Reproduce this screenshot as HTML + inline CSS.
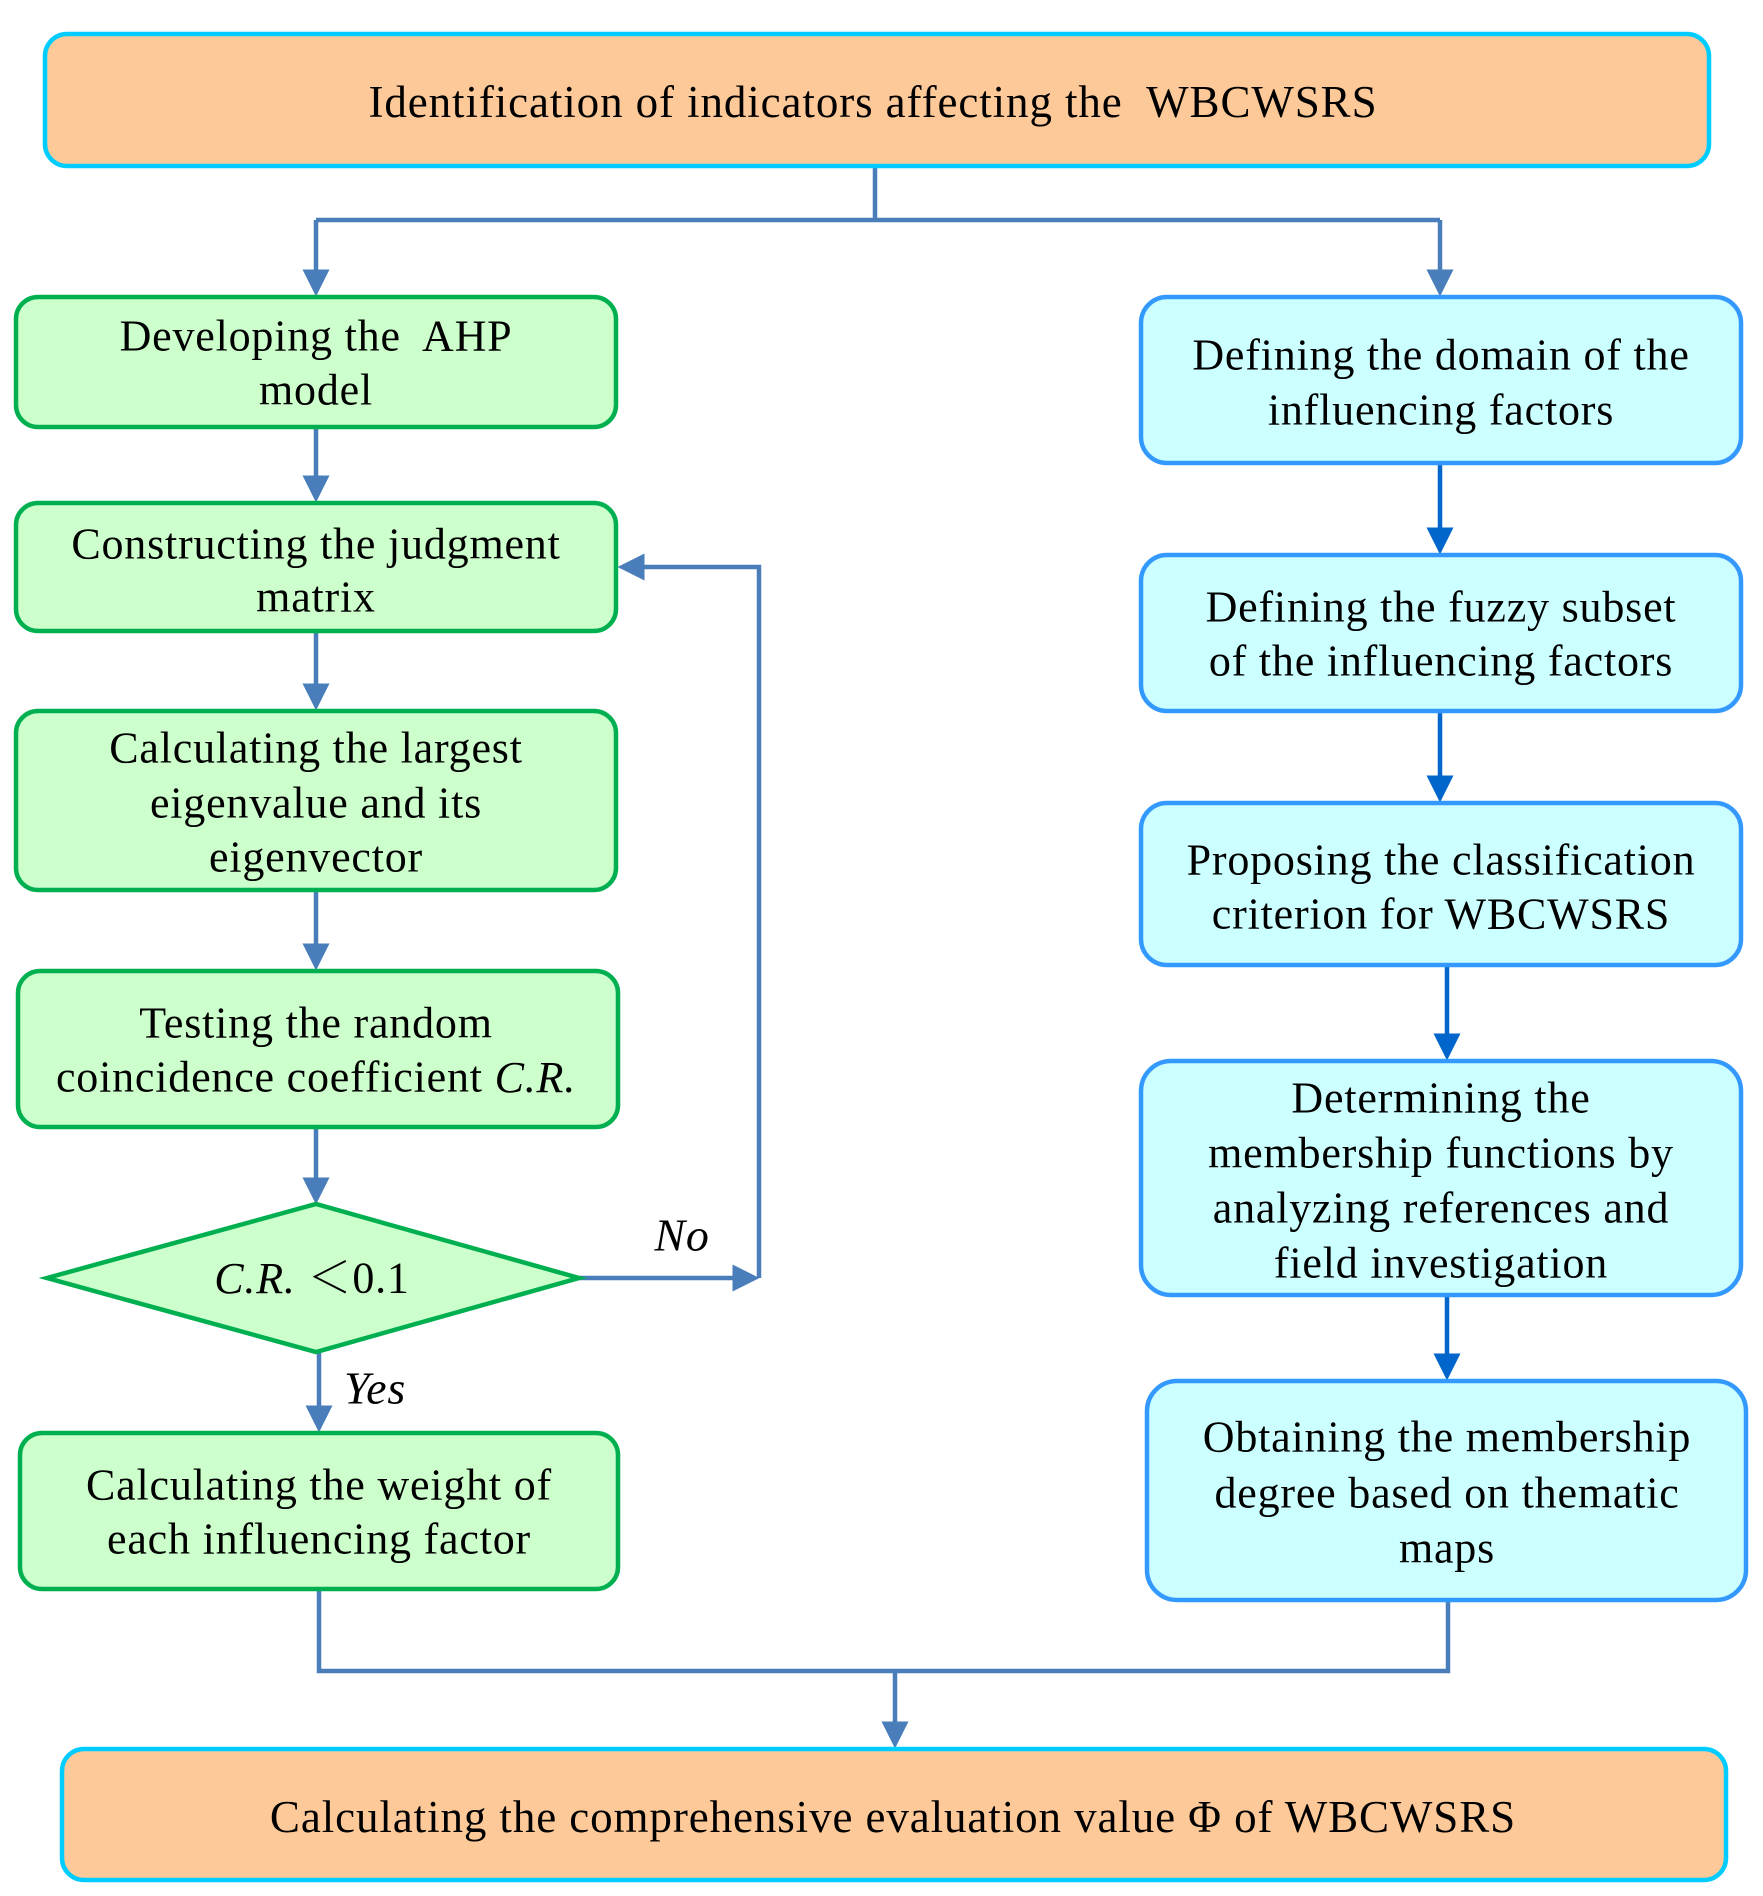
<!DOCTYPE html>
<html><head><meta charset="utf-8"><style>
html,body{margin:0;padding:0;background:#fff;}
svg{display:block;}
text{font-family:"Liberation Serif","Noto Serif CJK SC",serif;font-size:44px;letter-spacing:0.8px;fill:#000;text-anchor:middle;dominant-baseline:central;white-space:pre;}
</style></head><body>
<svg width="1763" height="1896" viewBox="0 0 1763 1896" xmlns="http://www.w3.org/2000/svg">
<defs>
<marker id="a" markerWidth="6" markerHeight="6" refX="5" refY="3" orient="auto" markerUnits="strokeWidth"><path d="M0,0 L6,3 L0,6 z" fill="#4a7ebb"/></marker>
<marker id="b" markerWidth="6" markerHeight="6" refX="5" refY="3" orient="auto" markerUnits="strokeWidth"><path d="M0,0 L6,3 L0,6 z" fill="#0066cc"/></marker>
</defs>
<g fill="none" stroke="#4a7ebb" stroke-width="4.5">
<path d="M875,166 V220 M316,220 H1440"/>
<path d="M316,220 V292" marker-end="url(#a)"/>
<path d="M1440,220 V292" marker-end="url(#a)"/>
<path d="M316,427 V498" marker-end="url(#a)"/>
<path d="M316,631 V706" marker-end="url(#a)"/>
<path d="M316,890 V966" marker-end="url(#a)"/>
<path d="M316,1127 V1200" marker-end="url(#a)"/>
<path d="M319,1352 V1428" marker-end="url(#a)"/>
<path d="M579,1278 H755" marker-end="url(#a)"/>
<path d="M759,1278 V567 H622" marker-end="url(#a)"/>
<path d="M319,1589 V1671 H1448 V1600"/>
<path d="M895,1671 V1744" marker-end="url(#a)"/>
</g>
<g fill="none" stroke="#0066cc" stroke-width="4.5">
<path d="M1440,463 V550" marker-end="url(#b)"/>
<path d="M1440,711 V798" marker-end="url(#b)"/>
<path d="M1447,965 V1056" marker-end="url(#b)"/>
<path d="M1447,1295 V1376" marker-end="url(#b)"/>
</g>
<g stroke-width="4.5">
<rect x="45" y="34" width="1664" height="132" rx="22" fill="#fdc998" stroke="#00ccff"/>
<rect x="62" y="1749" width="1664" height="131" rx="22" fill="#fdc998" stroke="#00ccff"/>
<g fill="#ccffcc" stroke="#00b050">
<rect x="16" y="297" width="600" height="130" rx="22"/>
<rect x="16" y="503" width="600" height="128" rx="22"/>
<rect x="16" y="711" width="600" height="179" rx="22"/>
<rect x="18" y="971" width="600" height="156" rx="22"/>
<polygon points="47,1278 316,1204 579,1278 316,1352"/>
<rect x="20" y="1433" width="598" height="156" rx="22"/>
</g>
<g fill="#ccffff" stroke="#3399ff">
<rect x="1141" y="297" width="600" height="166" rx="26"/>
<rect x="1141" y="555" width="600" height="156" rx="26"/>
<rect x="1141" y="803" width="600" height="162" rx="26"/>
<rect x="1141" y="1061" width="600" height="234" rx="30"/>
<rect x="1147" y="1381" width="599" height="219" rx="30"/>
</g>
</g>
<text x="873" y="102" style="font-size:45px;letter-spacing:0.9px">Identification of indicators affecting the  WBCWSRS</text>
<text x="316" y="336">Developing the  AHP</text>
<text x="316" y="390">model</text>
<text x="316" y="544">Constructing the judgment</text>
<text x="316" y="597">matrix</text>
<text x="316" y="748">Calculating the largest</text>
<text x="316" y="803">eigenvalue and its</text>
<text x="316" y="857">eigenvector</text>
<text x="316" y="1023">Testing the random</text>
<text x="316" y="1077">coincidence coefficient <tspan font-style="italic">C.R.</tspan></text>
<text x="312" y="1278"><tspan font-style="italic">C.R.</tspan> ＜0.1</text>
<text x="682" y="1235" font-style="italic" style="font-size:46px">No</text>
<text x="375" y="1388" font-style="italic" style="font-size:46px">Yes</text>
<text x="319" y="1485">Calculating the weight of</text>
<text x="319" y="1539">each influencing factor</text>
<text x="1441" y="355">Defining the domain of the</text>
<text x="1441" y="410">influencing factors</text>
<text x="1441" y="607">Defining the fuzzy subset</text>
<text x="1441" y="661">of the influencing factors</text>
<text x="1441" y="860">Proposing the classification</text>
<text x="1441" y="914">criterion for WBCWSRS</text>
<text x="1441" y="1098">Determining the</text>
<text x="1441" y="1153">membership functions by</text>
<text x="1441" y="1208">analyzing references and</text>
<text x="1441" y="1263">field investigation</text>
<text x="1447" y="1437">Obtaining the membership</text>
<text x="1447" y="1493">degree based on thematic</text>
<text x="1447" y="1548">maps</text>
<text x="893" y="1817" style="font-size:45px;letter-spacing:0.9px">Calculating the comprehensive evaluation value Φ of WBCWSRS</text>
</svg>
</body></html>
